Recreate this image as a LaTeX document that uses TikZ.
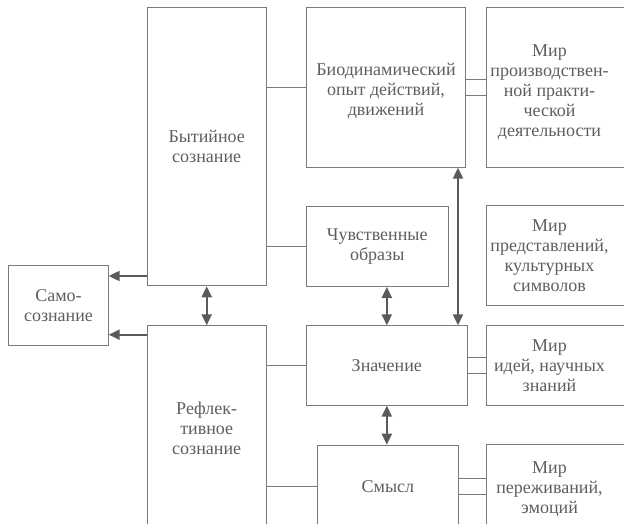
\documentclass[tikz,border=0pt]{standalone}
\usepackage{fontspec}
\setmainfont{Liberation Serif}
\newfontfamily\ruserif{Liberation Serif}
\usetikzlibrary{arrows.meta}
\definecolor{boxc}{HTML}{7A7A7A}
\definecolor{txtc}{HTML}{5E5E5E}
\definecolor{arrc}{HTML}{5A5A5A}
\begin{document}
\begin{tikzpicture}[x=1pt,y=-1pt,
  txt/.style={text=txtc,align=center,font=\ruserif\fontsize{18}{20}\selectfont},
  box/.style={draw=boxc,line width=1pt,rectangle,anchor=north west,inner sep=0pt,txt},
  mirbox/.style={box,draw=none},
  link/.style={draw=boxc,line width=1pt},
  arr/.style={draw=arrc,line width=2.2pt,-{Triangle[length=11pt,width=10pt]}},
  darr/.style={draw=arrc,line width=2.2pt,{Triangle[length=11pt,width=10pt]}-{Triangle[length=11pt,width=10pt]}}]
\useasboundingbox (0,0) rectangle (624,524);
\clip (0,0) rectangle (624,524);
% main boxes
\node[box,minimum width=119pt,minimum height=278pt] (byt) at (146.7,7.3) {Бытийное\\сознание};
\node[box,minimum width=119pt,minimum height=205pt] (ref) at (146.7,325.3) {Рефлек-\\тивное\\сознание};
\node[box,minimum width=99.4pt,minimum height=79.4pt] (samo) at (8.3,265.3) {Само-\\сознание};
\node[box,minimum width=159.6pt,minimum height=159.4pt,
  label={[txt,yshift=-4pt]center:Биодинамический\\опыт действий,\\движений}] (bio) at (305.7,7.3) {};
\node[box,minimum width=142pt,minimum height=80.3pt] (chu) at (305.7,205.7) {Чувственные\\образы};
\node[box,minimum width=161.3pt,minimum height=79.4pt] (zn) at (305.7,325.3) {Значение};
\node[box,minimum width=140.7pt,minimum height=82.3pt] (sm) at (317,444.7) {Смысл};
% right column (cut by the right edge)
\node[mirbox,minimum width=126pt,minimum height=159.4pt,
  label={[txt,yshift=-5pt]center:Мир\\производствен-\\ной практи-\\ческой\\деятельности}] (m1) at (486,7.3) {};
\node[mirbox,minimum width=126pt,minimum height=99pt] (m2) at (486,205.7) {Мир\\представлений,\\культурных\\символов};
\node[mirbox,minimum width=126pt,minimum height=79.4pt] (m3) at (486,325.3) {Мир\\идей, научных\\знаний};
\node[mirbox,minimum width=126pt,minimum height=82.3pt,
  label={[txt,yshift=-3pt]center:Мир\\переживаний,\\эмоций}] (m4) at (486,444.7) {};
\foreach \m in {m1,m2,m3,m4}{
  \draw[link] ([xshift=60pt]\m.north east) -- (\m.north west) -- (\m.south west) -- ([xshift=60pt]\m.south east);
}
% single links
\draw[link] (bio.west) -- (bio.west -| byt.east);
\draw[link] (chu.west) -- (chu.west -| byt.east);
\draw[link] (zn.west) -- (zn.west -| ref.east);
\draw[link] (sm.west) -- (sm.west -| ref.east);
% double links
\foreach \d in {-8.3,8.3}{
  \draw[link] ([yshift=\d pt]bio.east) -- ([yshift=\d pt]bio.east -| m1.west);
}
\foreach \d in {-7.8,7.8}{
  \draw[link] ([yshift=\d pt]zn.east) -- ([yshift=\d pt]zn.east -| m3.west);
  \draw[link] ([yshift=\d pt]sm.east) -- ([yshift=\d pt]sm.east -| m4.west);
}
% arrows to self-consciousness
\coordinate (s1) at (0,276);
\coordinate (s2) at (0,334.7);
\draw[arr] (byt.west |- s1) -- (samo.east |- s1);
\draw[arr] (ref.west |- s2) -- (samo.east |- s2);
% double arrows
\draw[darr] (byt.south) -- (byt.south |- ref.north);
\draw[darr] (zn.north) -- (zn.north |- chu.south);
\draw[darr] (zn.south) -- (zn.south |- sm.north);
\coordinate (a1) at ([xshift=-8.3pt]bio.south east);
\draw[darr] (a1) -- (a1 |- zn.north);
\end{tikzpicture}
\end{document}
